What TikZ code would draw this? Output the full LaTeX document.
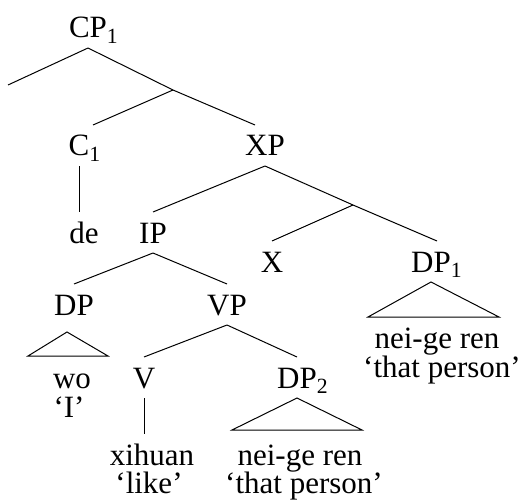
\documentclass[tikz,border=0pt]{standalone}
\usepackage{fontspec}
\setmainfont{Liberation Serif}
\usetikzlibrary{positioning}

\newcommand{\idx}[1]{\rlap{\textsubscript{#1}}}

\begin{document}
\begin{tikzpicture}[
  x=1pt, y=-1pt,
  line width=1pt,
  every node/.style={inner sep=0pt, anchor=base, font=\fontsize{31}{31}\selectfont},
  cat/.style={text height=21pt, text depth=0pt, outer ysep=10pt},
  word/.style={text height=21pt, text depth=0pt, outer ysep=10pt}
]
  \useasboundingbox (0,0) rectangle (522,500);

  % categories
  \node[cat] (cp)  at (88,38)   {CP\idx{1}};
  \node[cat] (c1)  at (79,156)  {C\idx{1}};
  \node[cat] (xp)  at (265,156) {XP};
  \node[cat] (ip)  at (153,243) {IP};
  \node[cat] (x)   at (272,272) {X};
  \node[cat] (dp1) at (431,272) {DP\idx{1}};
  \node[cat] (dp)  at (74,315)  {DP};
  \node[cat] (vp)  at (227,315) {VP};
  \node[cat] (v)   at (144,388) {V};
  \node[cat] (dp2) at (297,388) {DP\idx{2}};

  % words and glosses
  \node[word] (de)   at (84,243)  {de};
  \node[word] (wo)   at (72,388)  {wo};
  \node[word] (woI)  at (69,417)  {`I'};
  \node[word] (ng1)  at (437,348) {nei-ge ren};
  \node[word] (tp1)  at (442,377) {`that person'};
  \node[word] (xh)   at (152,465) {xihuan};
  \node[word] (like) at (149,493) {`like'};
  \node[word] (ng2)  at (300,465) {nei-ge ren};
  \node[word] (tp2)  at (304,493) {`that person'};

  % empty branch points
  \coordinate (e) at (8,85);
  \coordinate (a) at (173,90);
  \coordinate (b) at (353,205);

  \draw (cp.south) -- (e);
  \draw (cp.south) -- (a);
  \draw (a) -- ([xshift=14pt]c1.north);
  \draw (a) -- ([xshift=-10pt]xp.north);
  \draw (c1.south) -- (c1.south |- de.north);
  \draw (xp.south) -- (ip.north);
  \draw (xp.south) -- (b);
  \draw (b) -- (x.north);
  \draw (b) -- ([xshift=6pt]dp1.north);
  \draw (ip.south) -- (dp.north);
  \draw (ip.south) -- (vp.north);
  \draw (vp.south) -- (v.north);
  \draw (vp.south) -- (dp2.north);
  \draw (v.south) -- (v.south |- xh.north);

  % roofs
  \draw ([shift={(-7,7)}]dp.south) -- ++(-39,24) -- ++(80,0) -- cycle;
  \draw (dp1.south) -- ++(-63,35) -- ++(131,0) -- cycle;
  \draw (dp2.south) -- ++(-65,32) -- ++(130,0) -- cycle;
\end{tikzpicture}
\end{document}
